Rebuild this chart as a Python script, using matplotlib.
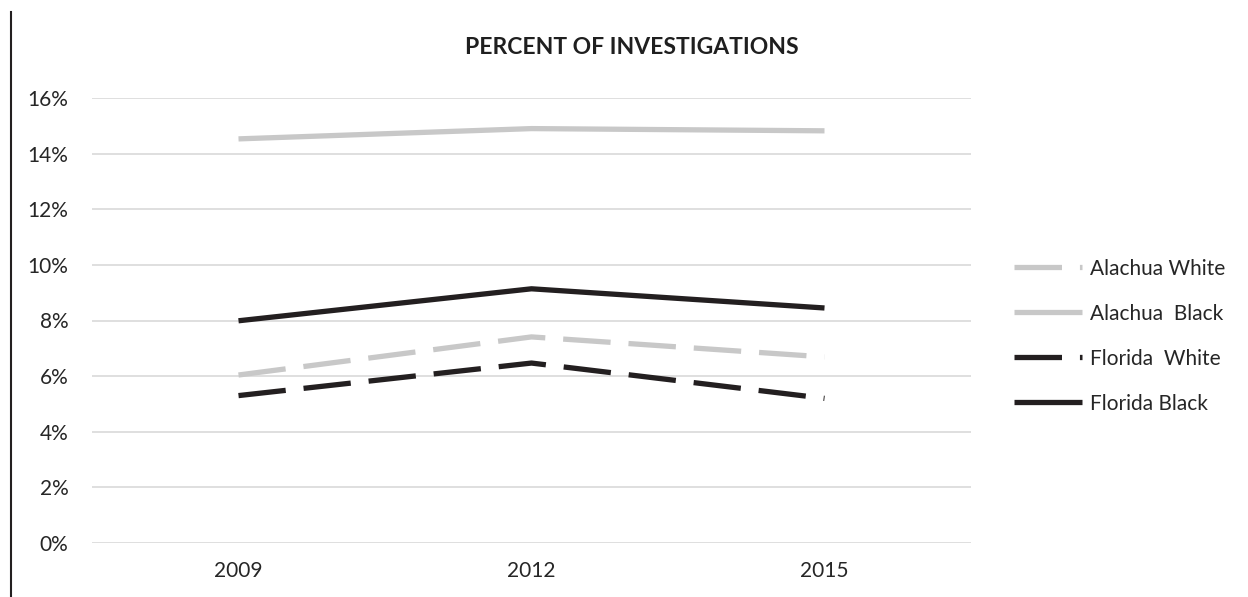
import matplotlib
matplotlib.use("Agg")
import matplotlib.pyplot as plt
from matplotlib.lines import Line2D
from matplotlib.ticker import FuncFormatter

# Data (percent of investigations)
years = ["2009", "2012", "2015"]
alachua_white = [6.04, 7.41, 6.69]
alachua_black = [14.53, 14.90, 14.82]
florida_white = [5.30, 6.47, 5.20]
florida_black = [7.99, 9.14, 8.45]

LIGHT = "#c8c8c8"
DARK = "#231f20"
GRID = "#d9d9d9"

plt.rcParams["font.family"] = ["Lato", "DejaVu Sans"]

fig = plt.figure(figsize=(12.48, 5.97), dpi=100)
ax = fig.add_axes([92 / 1248, 1 - 543 / 597, (971 - 92) / 1248, (543 - 98) / 597])

x = range(len(years))
dash = (0, (9.0, 3.4))
lw = 3.8
ax.plot(x, alachua_white, color=LIGHT, lw=lw, linestyle=dash, dash_capstyle="butt", label="Alachua White")
ax.plot(x, alachua_black, color=LIGHT, lw=lw, solid_capstyle="butt", label="Alachua  Black")
ax.plot(x, florida_white, color=DARK, lw=lw, linestyle=dash, dash_capstyle="butt", label="Florida  White")
ax.plot(x, florida_black, color=DARK, lw=lw, solid_capstyle="butt", label="Florida Black")

ax.set_xlim(-0.5, len(years) - 0.5)
ax.set_ylim(0, 16)
ax.set_yticks(range(0, 17, 2))
ax.yaxis.set_major_formatter(FuncFormatter(lambda v, p: f"{int(v)}%"))
ax.set_xticks(list(x))
ax.set_xticklabels(years)
ax.grid(axis="y", color=GRID, lw=1.2)
ax.set_axisbelow(True)
for s in ax.spines.values():
    s.set_visible(False)
ax.tick_params(length=0, labelsize=15, labelcolor="#262626")
ax.tick_params(axis="y", pad=17)
ax.tick_params(axis="x", pad=13)

fig.text(632 / 1248, 1 - 48 / 597, "PERCENT OF INVESTIGATIONS", ha="center", va="center",
         fontsize=16.5, fontweight="bold", color="#1f1f1f")

ax.legend(loc="center left", bbox_to_anchor=(1.0, 0.465), frameon=False, fontsize=15,
          handlelength=3.27, labelspacing=1.2, handletextpad=0.38, borderaxespad=1.67,
          labelcolor="#262626")

# left border line
fig.add_artist(Line2D([11 / 1248, 11 / 1248], [0, 1 - 12 / 597], color=DARK, lw=1.5))

fig.savefig("out.png", dpi=100)
